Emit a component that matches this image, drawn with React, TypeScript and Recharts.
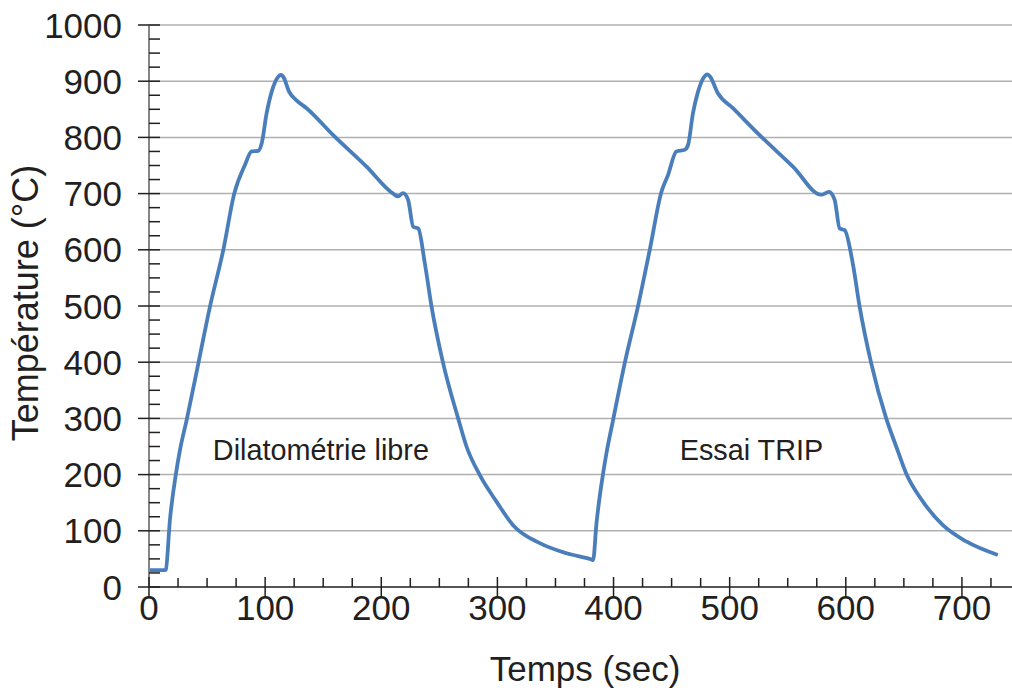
import React from "react";
import { LineChart, Line, XAxis, YAxis, CartesianGrid, ReferenceDot } from "recharts";

// temps (s) et température (°C)
const times = [
  0, 13.8, 14.5, 18, 23, 26.7, 32.4, 42.5, 52.5, 64, 73.4, 82.6, 88.4, 94, 97, 101.3, 105.6,
  111.3, 113.5, 115.6, 120.7, 127, 135.7, 158.6, 187.3, 210.2, 214.5, 218.8, 223.1, 227.5,
  231.8, 237.5, 243.3, 253.3, 266.2, 273.4, 284.9, 299.2, 313.5, 336.5, 359.5, 381, 382.4,
  385.3, 391, 393.9, 399.6, 409.6, 421, 431.2, 441.2, 446.9, 454.1, 461.3, 464.1, 468.4,
  472.7, 478.5, 480.6, 482.8, 490, 502.8, 525.8, 554.5, 578.9, 585.5, 590.4, 594.7, 599,
  606, 611.9, 621.9, 634.8, 643.4, 652, 666.4, 683.6, 703.7, 730.9,
];
const temps = [
  30, 30, 31, 119, 199, 244, 297, 398, 499, 600, 700, 751, 775, 776, 789, 843, 881,
  908, 911, 908, 881, 866, 852, 804, 748, 700, 695, 701, 689, 641,
  638, 576, 499, 398, 300, 250, 199, 152, 110, 78, 60, 49, 48,
  113, 202, 238, 297, 398, 499, 600, 703, 733, 775, 778, 786, 843,
  881, 909, 912, 909, 878, 852, 804, 748, 698, 703, 689, 638, 635,
  576, 499, 398, 300, 250, 202, 152, 110, 81, 57,
];

const xLabels = [0, 100, 200, 300, 400, 500, 600, 700];
const yLabels = [0, 100, 200, 300, 400, 500, 600, 700, 800, 900, 1000];
const minorStep = 25;

const annotations = [
  { text: "Dilatométrie libre", t: 55, temp: 244 },
  { text: "Essai TRIP", t: 457, temp: 244 },
];

const rows = times.map((t, i) => ({ t, temp: temps[i] }));
const xTicks = Array.from({ length: 750 / minorStep + 1 }, (_, i) => i * minorStep);
const yTicks = Array.from({ length: 1000 / minorStep + 1 }, (_, i) => i * minorStep);

const ink = "#231f20";
const font = "'Liberation Sans', Arial, sans-serif";

function YTick({ x, y, payload }: any) {
  const v = payload.value;
  const major = yLabels.includes(v);
  return (
    <g>
      <line x1={major ? x - 11 : x} x2={x + 11} y1={y} y2={y} stroke={ink} strokeWidth={1.5} />
      {major && (
        <text x={x - 27} y={y + 12.5} textAnchor="end" fontSize={35} fontFamily={font} fill={ink}>
          {v}
        </text>
      )}
    </g>
  );
}

function XTick({ x, y, payload }: any) {
  const v = payload.value;
  const major = xLabels.includes(v);
  return (
    <g>
      <line x1={x} x2={x} y1={y - (major ? 10 : 9)} y2={major ? y + 10 : y} stroke={ink} strokeWidth={1.5} />
      {major && (
        <text x={x} y={y + 33} textAnchor="middle" fontSize={35} fontFamily={font} fill={ink}>
          {v}
        </text>
      )}
    </g>
  );
}

export default function App() {
  return (
    <div style={{ position: "absolute", left: 0, top: 0, width: 1012, height: 691, overflow: "hidden" }}>
      <LineChart width={1040} height={691} data={rows} margin={{ top: 25, right: 20, left: 0, bottom: 0 }}>
        <CartesianGrid vertical={false} horizontalValues={yLabels} stroke="#b0b0b0" strokeWidth={1.5} />
        <XAxis
          type="number"
          dataKey="t"
          domain={[0, 750]}
          ticks={xTicks}
          interval={0}
          height={104}
          tickSize={0}
          tickMargin={0}
          tickLine={false}
          axisLine={{ stroke: "#555555", strokeWidth: 2 }}
          tick={<XTick />}
          label={{
            content: ({ viewBox }: any) => (
              <text x={585} y={viewBox.y + 94} textAnchor="middle" fontSize={35} fontFamily={font} fill={ink}>
                Temps (sec)
              </text>
            ),
          }}
        />
        <YAxis
          type="number"
          domain={[0, 1000]}
          ticks={yTicks}
          interval={0}
          width={149}
          tickSize={0}
          tickMargin={0}
          tickLine={false}
          axisLine={{ stroke: "#868686", strokeWidth: 2 }}
          tick={<YTick />}
          label={{
            content: ({ viewBox }: any) => {
              const cx = 38;
              const cy = viewBox.y + viewBox.height / 2 - 3;
              return (
                <text x={cx} y={cy} transform={`rotate(-90, ${cx}, ${cy})`} textAnchor="middle" fontSize={36} fontFamily={font} fill={ink}>
                  Température (°C)
                </text>
              );
            },
          }}
        />
        {annotations.map((a) => (
          <ReferenceDot
            key={a.text}
            x={a.t}
            y={a.temp}
            r={0}
            fill="none"
            stroke="none"
            label={{
              content: ({ viewBox }: any) => (
                <text x={viewBox.x} y={viewBox.y + 10} fontSize={28.8} fontFamily={font} fill={ink}>
                  {a.text}
                </text>
              ),
            }}
          />
        ))}
        <Line
          type="monotone"
          dataKey="temp"
          stroke="#4a7ebb"
          strokeWidth={3.8}
          dot={false}
          isAnimationActive={false}
        />
      </LineChart>
    </div>
  );
}
